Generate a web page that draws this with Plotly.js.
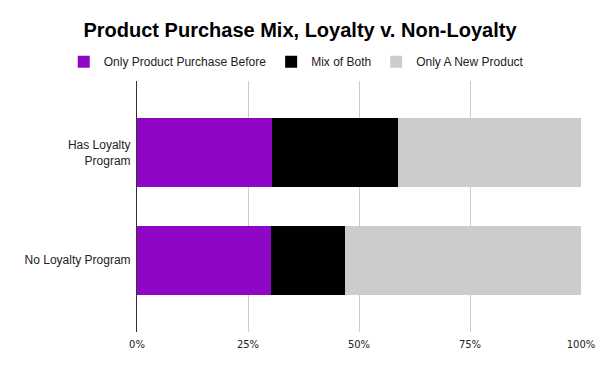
<!DOCTYPE html>
<html>
<head>
<meta charset="utf-8">
<script src="https://cdn.plot.ly/plotly-3.0.1.min.js"></script>
<style>html,body{margin:0;padding:0;background:#fff;}#chart{width:600px;height:371px;}</style>
</head>
<body>
<div id="chart"></div>
<script>
const categories = ["Has Loyalty<br>Program", "No Loyalty Program"];
const seriesNames = ["Only Product Purchase Before", "Mix of Both", "Only A New Product"];
const onlyBefore = [0.303, 0.301];
const mixOfBoth = [0.284, 0.167];
const onlyNew = [0.413, 0.532];
const seriesColors = ["#8f06c6", "#000000", "#cccccc"];
const tickVals = [0, 0.25, 0.5, 0.75, 1];
const tickText = ["0%", "25%", "50%", "75%", "100%"];

const seriesValues = [onlyBefore, mixOfBoth, onlyNew];
const traces = seriesValues.map((vals, i) => ({
  type: "bar",
  orientation: "h",
  name: seriesNames[i],
  x: vals,
  y: categories,
  marker: {color: seriesColors[i], line: {width: 0}},
  width: 0.642,
  hoverinfo: "x+name"
}));

const layout = {
  width: 600, height: 371,
  margin: {l: 137, r: 19, t: 81, b: 39, autoexpand: false},
  paper_bgcolor: "#fff", plot_bgcolor: "#fff",
  barmode: "stack",
  title: {text: "<b>Product Purchase Mix, Loyalty v. Non-Loyalty</b>", x: 0.5, xanchor: "center", y: 0.918, yanchor: "middle",
          font: {family: "Liberation Sans, Arial, sans-serif", size: 20, color: "#000"}},
  legend: {orientation: "h", x: -0.165, xanchor: "left", y: 1.077, yanchor: "middle",
           font: {family: "Liberation Sans, Arial, sans-serif", size: 12, color: "#222"},
           itemwidth: 30, traceorder: "normal"},
  xaxis: {range: [0, 1], tickvals: tickVals, ticktext: tickText, showgrid: true, gridcolor: "#cccccc", gridwidth: 1,
          zeroline: false, showline: false, ticks: "", fixedrange: true, ticklabelstandoff: 5,
          tickfont: {family: "DejaVu Sans, Verdana, sans-serif", size: 10, color: "#222"}},
  yaxis: {categoryorder: "array", categoryarray: categories, autorange: false, range: [1.67, -0.67],
          showline: true, linecolor: "#333", linewidth: 1, showgrid: false, zeroline: false, ticks: "",
          ticklabelstandoff: 3,
          tickfont: {family: "Liberation Sans, Arial, sans-serif", size: 12, color: "#222"}},
  showlegend: true
};

Plotly.newPlot("chart", traces, layout, {displayModeBar: false, staticPlot: true});
</script>
</body>
</html>
